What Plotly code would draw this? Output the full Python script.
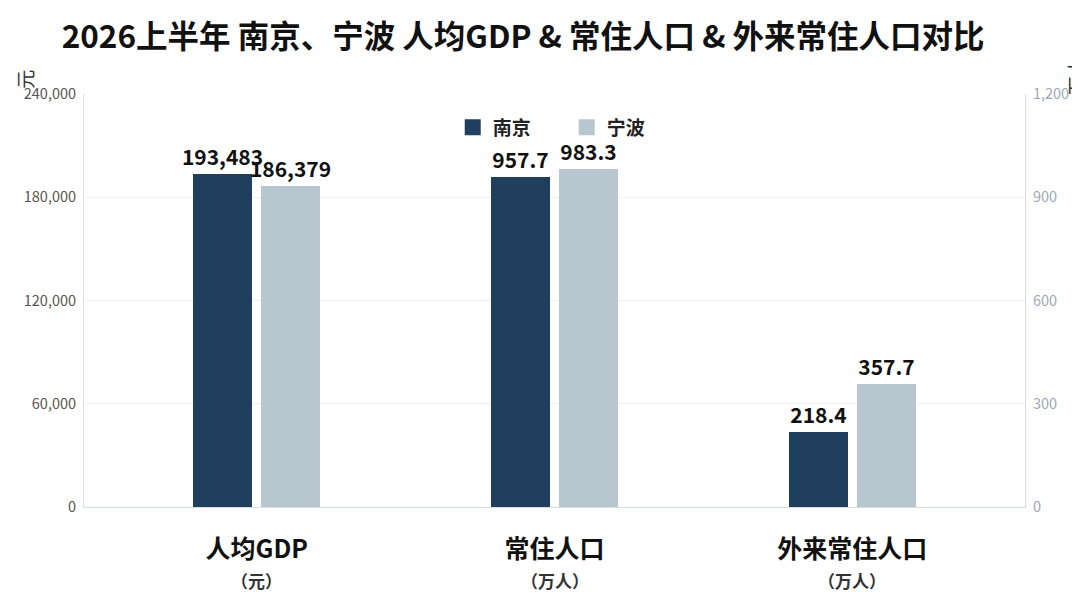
import plotly.graph_objects as go

categories = ["人均GDP", "常住人口", "外来常住人口"]
units = ["元", "万人", "万人"]
cities = ["南京", "宁波"]
gdp = {"南京": 193483, "宁波": 186379}
pop = {"南京": [957.7, 218.4], "宁波": [983.3, 357.7]}
left_ticks = [0, 60000, 120000, 180000, 240000]
right_ticks = [0, 300, 600, 900, 1200]

colors = {"南京": "#203f5e", "宁波": "#b8c6d0"}
offsets = {"南京": -0.214, "宁波": 0.015}
FONT = "Noto Sans CJK SC"
LABEL_FONT = dict(size=21, color="#111", family=FONT, weight="bold")

fig = go.Figure()
for c in cities:
    fig.add_trace(go.Bar(
        x=[0], y=[gdp[c]], name=c, legendgroup=c, showlegend=False,
        marker=dict(color=colors[c], line=dict(width=0)),
        width=0.198, offset=offsets[c],
        text=[f"{gdp[c]:,}"], textposition="outside", constraintext="none",
        textfont=LABEL_FONT, cliponaxis=False, yaxis="y",
    ))
    fig.add_trace(go.Bar(
        x=[1, 2], y=pop[c], name=c, legendgroup=c, showlegend=False,
        marker=dict(color=colors[c], line=dict(width=0)),
        width=0.198, offset=offsets[c],
        text=[f"{v:.1f}" for v in pop[c]], textposition="outside", constraintext="none",
        textfont=LABEL_FONT, cliponaxis=False, yaxis="y2",
    ))
    # legend entry with a larger square swatch
    fig.add_trace(go.Scatter(
        x=[None], y=[None], mode="markers", name=c, legendgroup=c, showlegend=True,
        marker=dict(symbol="square", size=16, color=colors[c]),
    ))

fig.update_layout(
    width=1080, height=608,
    margin=dict(l=76, r=63, t=86, b=109, autoexpand=False),
    paper_bgcolor="white", plot_bgcolor="white",
    font=dict(family=FONT, color="#333"),
    title=dict(text="<b>2026上半年 南京、宁波 人均GDP & 常住人口 & 外来常住人口对比</b>",
               x=0.477, xanchor="center", y=0.952, yanchor="middle",
               font=dict(size=31.5, color="#111", family=FONT)),
    showlegend=True,
    legend=dict(orientation="h", x=0.513, xanchor="center", y=0.965, yanchor="top",
                font=dict(size=19, color="#222", family=FONT, weight="bold"),
                bgcolor="rgba(0,0,0,0)", entrywidth=69, entrywidthmode="pixels",
                itemsizing="trace", tracegroupgap=0),
    bargap=0, barmode="overlay",
    xaxis=dict(range=[-0.58, 2.58], tickvals=[0, 1, 2],
               ticktext=[f"<b>{cat}</b>" for cat in categories],
               tickfont=dict(size=25, color="#111", family=FONT),
               showline=True, linecolor="#d8dde2", linewidth=1,
               showgrid=False, ticks="", ticklabelstandoff=20, zeroline=False),
    yaxis=dict(range=[0, 240000], tickvals=left_ticks,
               ticktext=[f"{v:,}" for v in left_ticks],
               tickfont=dict(size=14.5, color="#555"), ticklabelstandoff=4,
               showgrid=True, gridcolor="#eef0f2", gridwidth=1,
               showline=True, linecolor="#d8dde2", linewidth=1,
               zeroline=False, ticks=""),
    yaxis2=dict(range=[0, 1200], tickvals=right_ticks,
                ticktext=[f"{v:,}" for v in right_ticks],
                overlaying="y", side="right",
                tickfont=dict(size=14.5, color="#9aa8b8"), ticklabelstandoff=4,
                showgrid=False, showline=True, linecolor="#d8dde2", linewidth=1,
                zeroline=False, ticks=""),
)

for i, u in enumerate(units):
    fig.add_annotation(text=f"<b>（{u}）</b>", xref="x", yref="paper", x=i, y=-0.177,
                       showarrow=False, yanchor="middle",
                       font=dict(size=17, color="#333", family=FONT))

fig.add_annotation(text="元", xref="paper", yref="paper", x=-0.080, y=1.063,
                   showarrow=False, textangle=-90, font=dict(size=19, color="#333"))
fig.add_annotation(text="万人", xref="paper", yref="paper", x=1.07, y=1.095,
                   showarrow=False, textangle=-90, font=dict(size=19, color="#333"))

fig.write_html("out.html")
